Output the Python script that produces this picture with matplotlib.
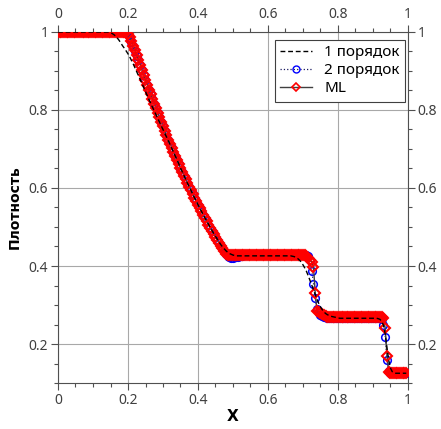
import matplotlib
matplotlib.use("Agg")
import matplotlib.pyplot as plt
from matplotlib.ticker import MultipleLocator
from matplotlib.lines import Line2D

plt.rcParams['font.family'] = ['Noto Sans', 'DejaVu Sans']

# cell positions
x_cells = [
    0.000, 0.005, 0.010, 0.015, 0.020, 0.025, 0.030, 0.035, 0.040, 0.045,
    0.050, 0.055, 0.060, 0.065, 0.070, 0.075, 0.080, 0.085, 0.090, 0.095,
    0.100, 0.105, 0.110, 0.115, 0.120, 0.125, 0.130, 0.135, 0.140, 0.145,
    0.150, 0.155, 0.160, 0.165, 0.170, 0.175, 0.180, 0.185, 0.190, 0.195,
    0.200, 0.205, 0.210, 0.215, 0.220, 0.225, 0.230, 0.235, 0.240, 0.245,
    0.250, 0.255, 0.260, 0.265, 0.270, 0.275, 0.280, 0.285, 0.290, 0.295,
    0.300, 0.305, 0.310, 0.315, 0.320, 0.325, 0.330, 0.335, 0.340, 0.345,
    0.350, 0.355, 0.360, 0.365, 0.370, 0.375, 0.380, 0.385, 0.390, 0.395,
    0.400, 0.405, 0.410, 0.415, 0.420, 0.425, 0.430, 0.435, 0.440, 0.445,
    0.450, 0.455, 0.460, 0.465, 0.470, 0.475, 0.480, 0.485, 0.490, 0.495,
    0.500, 0.505, 0.510, 0.515, 0.520, 0.525, 0.530, 0.535, 0.540, 0.545,
    0.550, 0.555, 0.560, 0.565, 0.570, 0.575, 0.580, 0.585, 0.590, 0.595,
    0.600, 0.605, 0.610, 0.615, 0.620, 0.625, 0.630, 0.635, 0.640, 0.645,
    0.650, 0.655, 0.660, 0.665, 0.670, 0.675, 0.680, 0.685, 0.690, 0.695,
    0.700, 0.705, 0.710, 0.715, 0.720, 0.725, 0.730, 0.735, 0.740, 0.745,
    0.750, 0.755, 0.760, 0.765, 0.770, 0.775, 0.780, 0.785, 0.790, 0.795,
    0.800, 0.805, 0.810, 0.815, 0.820, 0.825, 0.830, 0.835, 0.840, 0.845,
    0.850, 0.855, 0.860, 0.865, 0.870, 0.875, 0.880, 0.885, 0.890, 0.895,
    0.900, 0.905, 0.910, 0.915, 0.920, 0.925, 0.930, 0.935, 0.940, 0.945,
    0.950, 0.955, 0.960, 0.965, 0.970, 0.975, 0.980, 0.985, 0.990, 0.995,
]

# 1st order scheme density
rho_order1 = [
    1.000, 1.000, 1.000, 1.000, 1.000, 1.000, 1.000, 1.000, 1.000, 1.000,
    1.000, 1.000, 1.000, 1.000, 1.000, 1.000, 1.000, 1.000, 1.000, 1.000,
    1.000, 1.000, 1.000, 1.000, 1.000, 1.000, 1.000, 1.000, 1.000, 1.000,
    0.998, 0.996, 0.993, 0.989, 0.984, 0.978, 0.971, 0.964, 0.958, 0.951,
    0.944, 0.936, 0.927, 0.918, 0.908, 0.898, 0.888, 0.878, 0.868, 0.857,
    0.847, 0.837, 0.827, 0.817, 0.807, 0.798, 0.788, 0.778, 0.769, 0.759,
    0.750, 0.740, 0.731, 0.721, 0.712, 0.702, 0.692, 0.682, 0.672, 0.662,
    0.651, 0.642, 0.632, 0.622, 0.612, 0.603, 0.594, 0.584, 0.575, 0.566,
    0.557, 0.549, 0.540, 0.531, 0.523, 0.515, 0.507, 0.499, 0.491, 0.483,
    0.476, 0.469, 0.462, 0.455, 0.449, 0.444, 0.439, 0.435, 0.432, 0.430,
    0.428, 0.427, 0.426, 0.426, 0.426, 0.426, 0.426, 0.426, 0.426, 0.426,
    0.426, 0.426, 0.426, 0.426, 0.426, 0.426, 0.426, 0.426, 0.426, 0.426,
    0.426, 0.426, 0.426, 0.426, 0.426, 0.426, 0.426, 0.426, 0.426, 0.426,
    0.426, 0.426, 0.426, 0.426, 0.425, 0.424, 0.422, 0.419, 0.415, 0.410,
    0.403, 0.395, 0.386, 0.375, 0.363, 0.351, 0.339, 0.327, 0.315, 0.304,
    0.295, 0.288, 0.282, 0.278, 0.275, 0.273, 0.271, 0.270, 0.269, 0.268,
    0.267, 0.266, 0.266, 0.266, 0.266, 0.266, 0.266, 0.266, 0.266, 0.266,
    0.266, 0.266, 0.266, 0.266, 0.266, 0.266, 0.266, 0.266, 0.266, 0.266,
    0.266, 0.266, 0.266, 0.265, 0.263, 0.258, 0.248, 0.225, 0.190, 0.158,
    0.138, 0.129, 0.126, 0.125, 0.125, 0.125, 0.125, 0.125, 0.125, 0.125,
]

# 2nd order scheme density
rho_order2 = [
    1.000, 1.000, 1.000, 1.000, 1.000, 1.000, 1.000, 1.000, 1.000, 1.000,
    1.000, 1.000, 1.000, 1.000, 1.000, 1.000, 1.000, 1.000, 1.000, 1.000,
    1.000, 1.000, 1.000, 1.000, 1.000, 1.000, 1.000, 1.000, 1.000, 1.000,
    1.000, 1.000, 1.000, 1.000, 1.000, 1.000, 1.000, 1.000, 1.000, 0.999,
    0.994, 0.985, 0.974, 0.963, 0.951, 0.939, 0.929, 0.916, 0.903, 0.890,
    0.877, 0.865, 0.852, 0.840, 0.828, 0.816, 0.804, 0.792, 0.781, 0.769,
    0.758, 0.747, 0.735, 0.724, 0.714, 0.703, 0.692, 0.682, 0.672, 0.662,
    0.651, 0.642, 0.632, 0.622, 0.612, 0.603, 0.594, 0.584, 0.575, 0.566,
    0.557, 0.549, 0.540, 0.531, 0.523, 0.515, 0.506, 0.498, 0.490, 0.482,
    0.475, 0.467, 0.459, 0.452, 0.445, 0.438, 0.430, 0.425, 0.422, 0.421,
    0.421, 0.422, 0.423, 0.424, 0.425, 0.426, 0.427, 0.427, 0.427, 0.427,
    0.427, 0.427, 0.427, 0.427, 0.427, 0.427, 0.427, 0.427, 0.427, 0.427,
    0.427, 0.427, 0.427, 0.427, 0.427, 0.427, 0.427, 0.427, 0.427, 0.427,
    0.427, 0.427, 0.427, 0.427, 0.427, 0.427, 0.427, 0.427, 0.427, 0.427,
    0.427, 0.427, 0.427, 0.426, 0.415, 0.388, 0.355, 0.318, 0.290, 0.279,
    0.274, 0.271, 0.269, 0.268, 0.267, 0.267, 0.267, 0.267, 0.267, 0.267,
    0.267, 0.267, 0.267, 0.267, 0.267, 0.267, 0.267, 0.267, 0.267, 0.267,
    0.267, 0.267, 0.267, 0.267, 0.267, 0.267, 0.267, 0.267, 0.267, 0.267,
    0.267, 0.267, 0.267, 0.267, 0.267, 0.265, 0.249, 0.219, 0.159, 0.131,
    0.126, 0.125, 0.125, 0.125, 0.125, 0.125, 0.125, 0.125, 0.125, 0.125,
]

# ML scheme density
rho_ml = [
    1.000, 1.000, 1.000, 1.000, 1.000, 1.000, 1.000, 1.000, 1.000, 1.000,
    1.000, 1.000, 1.000, 1.000, 1.000, 1.000, 1.000, 1.000, 1.000, 1.000,
    1.000, 1.000, 1.000, 1.000, 1.000, 1.000, 1.000, 1.000, 1.000, 1.000,
    1.000, 1.000, 1.000, 1.000, 1.000, 1.000, 1.000, 1.000, 1.000, 0.999,
    0.995, 0.987, 0.976, 0.965, 0.953, 0.941, 0.929, 0.916, 0.903, 0.890,
    0.877, 0.865, 0.852, 0.840, 0.828, 0.816, 0.804, 0.792, 0.781, 0.769,
    0.758, 0.747, 0.735, 0.724, 0.714, 0.703, 0.692, 0.682, 0.672, 0.662,
    0.651, 0.642, 0.632, 0.622, 0.612, 0.603, 0.594, 0.584, 0.575, 0.566,
    0.557, 0.549, 0.540, 0.531, 0.523, 0.515, 0.506, 0.498, 0.490, 0.482,
    0.475, 0.467, 0.459, 0.452, 0.445, 0.438, 0.432, 0.429, 0.428, 0.428,
    0.428, 0.428, 0.428, 0.428, 0.428, 0.428, 0.428, 0.428, 0.428, 0.428,
    0.428, 0.428, 0.428, 0.428, 0.428, 0.428, 0.428, 0.428, 0.428, 0.428,
    0.428, 0.428, 0.428, 0.428, 0.428, 0.428, 0.428, 0.428, 0.428, 0.428,
    0.428, 0.428, 0.428, 0.428, 0.428, 0.428, 0.428, 0.428, 0.428, 0.428,
    0.428, 0.427, 0.425, 0.421, 0.416, 0.410, 0.398, 0.330, 0.285, 0.281,
    0.279, 0.277, 0.274, 0.271, 0.269, 0.268, 0.268, 0.268, 0.268, 0.268,
    0.268, 0.268, 0.268, 0.268, 0.268, 0.268, 0.268, 0.268, 0.268, 0.268,
    0.268, 0.268, 0.268, 0.268, 0.268, 0.268, 0.268, 0.268, 0.268, 0.268,
    0.268, 0.268, 0.268, 0.268, 0.268, 0.268, 0.266, 0.240, 0.170, 0.128,
    0.126, 0.126, 0.126, 0.126, 0.126, 0.126, 0.126, 0.126, 0.126, 0.126,
]

series_labels = ["1 порядок", "2 порядок", "ML"]
x_ticks = [0, 0.2, 0.4, 0.6, 0.8, 1]
x_tick_labels = ["0", "0.2", "0.4", "0.6", "0.8", "1"]
y_ticks = [0.2, 0.4, 0.6, 0.8, 1]
y_tick_labels = ["0.2", "0.4", "0.6", "0.8", "1"]

assert len(x_cells) == len(rho_order1) == len(rho_order2) == len(rho_ml) == 200

fig = plt.figure(figsize=(4.41, 4.29), dpi=100)
ax = fig.add_axes([58 / 441, 1 - 383 / 429, 350 / 441, 351 / 429])

ax.plot(x_cells, rho_order2, linestyle=':', color='#1a1a60', linewidth=0.9,
        marker='o', markersize=5.5, markerfacecolor='none',
        markeredgecolor='#0000ff', markeredgewidth=1.1, zorder=3)
ax.plot(x_cells, rho_ml, linestyle='-', color='#404040', linewidth=1.0,
        marker='D', markersize=5, markerfacecolor='none',
        markeredgecolor='#ff0000', markeredgewidth=1.5, zorder=4)
ax.plot(x_cells, rho_order1, linestyle=(0, (3.5, 2)), color='black',
        linewidth=1.0, zorder=5)

ax.set_xlim(0, 1)
ax.set_ylim(0.1, 1.0)
ax.set_xticks(x_ticks)
ax.set_xticklabels(x_tick_labels)
ax.set_yticks(y_ticks)
ax.set_yticklabels(y_tick_labels)
ax.xaxis.set_minor_locator(MultipleLocator(0.05))
ax.yaxis.set_minor_locator(MultipleLocator(0.05))

ax.grid(True, which='major', color='#a8a8a8', linewidth=0.8, zorder=0)
ax.set_axisbelow(True)

ax.tick_params(which='both', direction='out', top=True, right=True,
               labeltop=True, labelright=True, color='#505050',
               labelcolor='#404040', labelsize=10, width=0.8)
ax.tick_params(which='major', length=5, pad=2)
ax.tick_params(which='minor', length=3)
for sp in ax.spines.values():
    sp.set_color('#505050')
    sp.set_linewidth(0.8)

ax.set_xlabel("X", fontsize=11, fontweight='bold', family=['DejaVu Sans'],
              labelpad=1)
ax.set_ylabel("Плотность", fontsize=10, fontweight='bold',
              family=['DejaVu Sans'], labelpad=5)

handles = [
    Line2D([], [], linestyle=(0, (3.5, 2)), color='black', linewidth=1.0),
    Line2D([], [], linestyle=':', color='#1a1a60', linewidth=0.9, marker='o',
           markersize=5, markerfacecolor='none', markeredgecolor='#0000ff'),
    Line2D([], [], linestyle='-', color='#404040', linewidth=1.0, marker='D',
           markersize=4, markerfacecolor='none', markeredgecolor='#ff0000',
           markeredgewidth=1.2),
]
leg = ax.legend(handles, series_labels, loc='upper right',
                bbox_to_anchor=(0.992, 0.978), fontsize=11, frameon=True,
                fancybox=False, edgecolor='#404040', framealpha=1,
                borderpad=0.35, labelspacing=0.2, handlelength=2.1,
                handletextpad=0.8, borderaxespad=0)
leg.get_frame().set_linewidth(0.8)

fig.savefig("out.png", dpi=100)
